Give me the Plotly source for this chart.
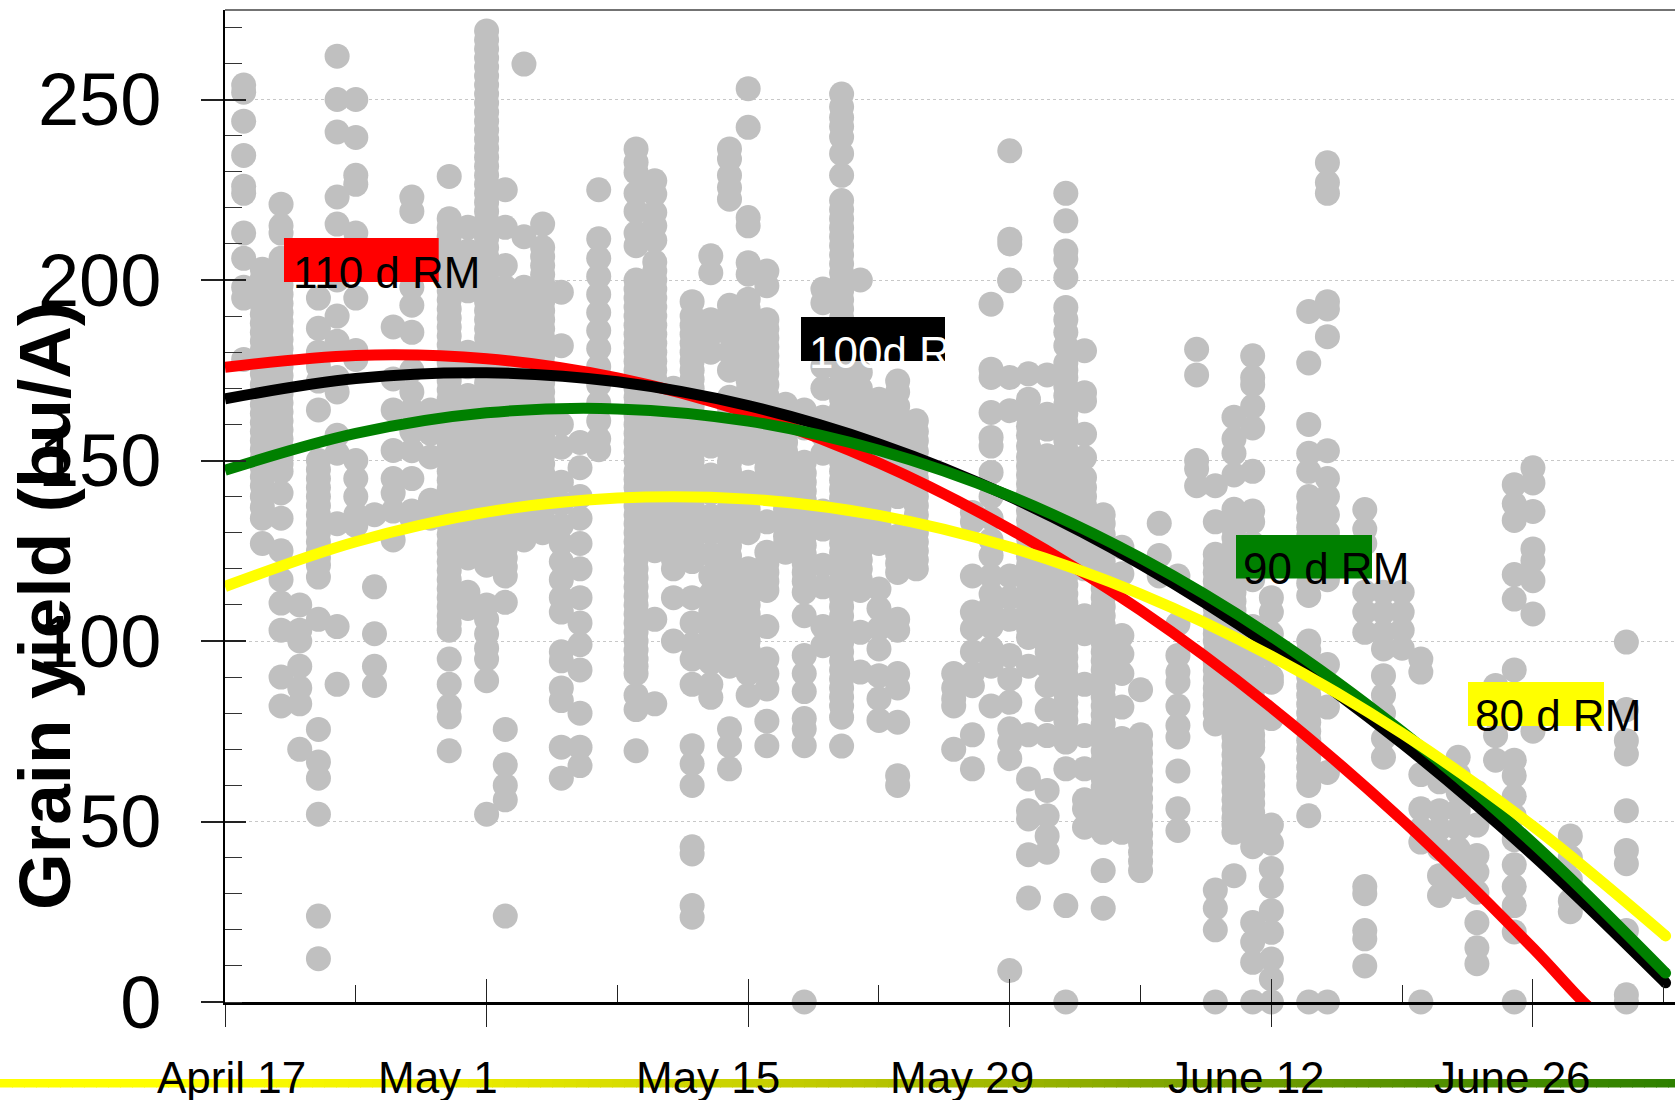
import plotly.graph_objects as go

# ---- tick labels and curve names -------------------------------------------
X_TICK_DAYS = [0, 14, 28, 42, 56, 70]
X_LABELS = ["April 17", "May 1", "May 15", "May 29", "June 12", "June 26"]
Y_TICKS = [0, 50, 100, 150, 200, 250]
Y_TITLE = "Grain yield (bu/A)"

# ---- fitted curves (days after April 17, bu/A) -----------------------------
CURVE_DAYS = [0, 7, 14, 21, 28, 35, 42, 49, 56, 63, 70]
red_days = CURVE_DAYS + [72.7, 73.6]
red_y = [175.8, 179.1, 178.2, 172.9, 163.2, 149.3, 131.0, 108.5, 81.6, 50.4, 14.9, 0, -4]
long_days = CURVE_DAYS + [77.1]
black_y = [167.1, 172.7, 174.3, 171.8, 165.2, 154.6, 140.0, 121.3, 98.5, 71.6, 40.7, 5.3]
green_y = [147.3, 157.5, 163.2, 164.3, 160.9, 152.8, 140.2, 123.0, 101.3, 74.9, 44.0, 8.0]
yellow_y = [115.1, 127.5, 135.7, 139.6, 139.3, 134.8, 126.0, 113.0, 95.8, 74.4, 48.7, 18.3]

# ---- plot observations, one list per planting day --------------------------
d01 = [254,252,244,234.5,226,224,213,206,198,195,178]
d02 = [203,198,193,188,183,178,174,168,163,158,153,148,143,140,134,127]
d03 = [221,215,213,206,201,196,191,186,181,176,171,166,161,156,151,147,141,134,125,117,110.5,103,90,82]
d04 = [110,103,100,93,87,82.6,70]
d05 = [195,186.6,180,176,172,164,150,145,140,135,130,125,121,117.7,106,75.5,66.5,62,52,23.8,12]
d06 = [262,250,241,223,215.5,208,200,190,183,173,169,157,152,132.5,104,88]
d07 = [250,239.5,229,226.5,213,205,195,180.5,178,150,145,140,135,132]
d08 = [135,115,102,93,87.7]
d09 = [187,172.6,164,152.8,145,141,136,128]
d10 = [223,219,198,193,185.5,175,169,164,158,152.7,145,136,134]
d11 = [164,157.5,151,139,134]
d12 = [228.7,217,212,207,202,197,192,187,182,177,172,167,162,157,152,147,142,137,132,127,122,117,112,107,103,95,88,82,79,69.6]
d13 = [214.6,208,203,197,180,176,168,163,158,153,148,143,138,133,128,123,113.5,109]
d14 = [269,264,259,254,249,244,239,234,229,224,219,214,209,204,199,194,189,184,179,174,169,164,159,154,149,144,139,134,129,124,121,110,106,102,98,95,89,52]
d15 = [225,214.6,204,198,193,188,183,178,173,168,163,158,153,148,143,138,133,128,123,118,110.7,75.5,65.7,60,56,23.8]
d16 = [259.8,212,198,193,188,183,178,173,168,163,158,153,148,143,138,133,128]
d17 = [215.5,209,204,199,194,189,184,179,174,169,164,159,154,149,144,139,134,130]
d18 = [196.6,181.8,160,153.7,144,138,132,127,122,117,112,108,97,94.5,87,83.5,70.6,62]
d19 = [155,148,140,134,127,120,112,105,99,92,80,70.6,65.5]
d20 = [225,211.4,206,201,196,191,186,181,176,171,166,161,156,153]
d22 = [236.3,232.6,229.8,224,219,213,209.5,200,195,190,185,180,175,170,165,160,155,150,144.8,140,135,130,125,120,115,110,105,100,95,91,85,81,69.6]
d23 = [227.5,223.8,218.7,215,211,205,200,195,190,185,180,175,170,165,160,155,150,145,140,135,130,125,106,82.6]
d24 = [170,165,160,155,150,145,140,135,130,125,120,112,100]
d25 = [194,190,185,180,175,170,165,160,155,150,145,140,135,130,125,122,112,105,99,95,88,71,66,60,43,41,26.7,23.5]
d26 = [206.7,202,189,185,180,158,154,146,141,134.6,130,124,118,113,108,103,98,94,88,84.4]
d27 = [236.3,233.5,229,225.6,222.4,193,189,185,180,175,167.5,162,157,152,147,142,137,132,126.4,121,116,111,106,101,96,93,75.7,71,64.6]
d28 = [253,242.3,217.3,215,204.8,201.6,194.7,192,187,183,178,172,167,162,157,152,144,139,134,130,120,115,110,105,100,95,91,85]
d29 = [202.5,198.4,189,184,179,174,168,163,158,153,148,143,133,124.6,119,114,104,95,91,86.7,77.8,71]
d30 = [165.6,160,155,150,144,139,134,129,124.6]
d31 = [164,159,149.5,144,139,134,129,124,119,113.5,107,96,91,86,78.5,75.7,71,0]
d32 = [197.5,193.7,176,170,162,157,152,136,131,121,115,104,98.7]
d33 = [251.5,248,245,242.5,239.6,235,229,222,217,212,207,202,197,192,187,182,177,172,167,162,157,152,147,142,137,132,127,122,117,112,107,102,97,92,87,82,78.9,70.9]
d34 = [200,174.4,170,165,160,155,150,145,140,135,130,125,120,114,102.4,91.4]
d35 = [167,162,157,152,147,142,137,132,127,114.4,109,103.4,97.8,90.4,84,78]
d36 = [172,169,165,160,155,150,145,140,129,124,119,106,103,91,87,77.5,62.7,60]
d37 = [161,155.5,150,145,140,135,130,125,120]
d39 = [91,87,84,82,70]
d40 = [135.6,133,118,108,103.4,97,91,87.6,74,64.6]
d41 = [193.3,175.3,173,163.3,156.4,154,146.7,140,134,128,123.7,118,113,109.8,104,98,93,82]
d42 = [235.8,211.3,210,200,199.8,173,163.8,118,112,106,96,89.5,83,75.7,72,67.4,8.7]
d43 = [174,167,162.4,157,151,146,141,136,131,126,121,116,111,106,101,93,74,61.8,53,50.7,40.8,28.8]
d44 = [173.7,162.8,158.7,151.3,146,141,136,131,126,121,116,111,106,101,97,93,87.6,81,73.8,58.6,51.6,46,41.5]
d45 = [224,216.4,208,205.8,200.7,192.4,189,185.5,181.8,177,173,168,163,158,153,148,143,138,133,128,123,118,113,108,103,98,93,88,83,78,72,64.6,26.7,0]
d46 = [180.4,168.8,166.5,157.3,150.8,145.3,140,135,130,125,120,107,102,88,73.8,64.6,56,53.5,48.4]
d47 = [135,132.5,127,122,117,112,107,102,97,92,87,82,77,72,67,62,57,52,47,36.4,26]
d48 = [126,118.6,101.5,96.4,91,81.7,73,69,64,59,54,49,47]
d49 = [86.5,74,69,64,59,54,49,44,39,36.4]
d50 = [132.6,123.7,118]
d51 = [118,104.7,96,91.4,88.6,82,76.6,73.4,64,53.5,47.5]
d52 = [180.8,173.7,150,147.7,143]
d53 = [143,133,124,119,114,109,104,100,94,89.5,85,80,77,31,26,20,0]
d54 = [162,156,152,146,136.5,131,126,121,116,111,106,101,96,91,86,81,76,71,66,61,56,51,47,35]
d55 = [179,173,171,165,159,147,136,133,127,122,117,104,99,94,89,84,79,74,70.5,65,60,55,50,45,43,22,16.6,11,0]
d56 = [112,108,102,96,90,88.6,78.5,49,44,37,32,25.3,19.3,11.9,6.4,0]
d58 = [191.3,177,160,152,147,140,134,129,124,119,112.6,100,95,90,85,80,75,70,65,60,51.6,0]
d59 = [232.5,227,224,194,192,184.3,152.7,145,140,135,130,125,120,117,93.5,81.7,63.6,0]
d61 = [136.4,131,127,113.5,108,102.4,32,30,19.8,17.5,10]
d62 = [113.5,108,102.4,97.8,90.4,85,80,73,67.8]
d63 = [113.5,108,103,98]
d64 = [95,91.4,63,53.5,48,44.3,0]
d65 = [61,53,48,42.4,35,29.5]
d66 = [67.8,63,58,53,48,42.4,37,32]
d67 = [58,49,40.6,36,30.4,22,15,10.6]
d68 = [87.7,73.8,67]
d69 = [143.3,138,133.4,118.4,111.6,92,67,62.7,57,51.6,45,38,32,26.7,19.4,0]
d70 = [148,143.8,135.9,125.5,122.3,116.7,107.5,75]
d72 = [46,40,34,28,25]
d75 = [99.7,81,72.4,68.7,53,42,38.3,19.8,2,0]

# further observations read from the solid stretches of the columns
x02 = [200.5,195.5,190.5,185.5,180.5,176,171,165.5,160.5,155.5,150.5,145.5,137]
x03 = [203.5,198.5,193.5,188.5,183.5,178.5,173.5,168.5,163.5,158.5,153.5,149]
x05 = [147.5,142.5,137.5,132.5,127.5,123]
x12 = [214.5,209.5,204.5,199.5,194.5,189.5,184.5,179.5,174.5,169.5,164.5,159.5,154.5,149.5,144.5,139.5,134.5,129.5,124.5,119.5,114.5,109.5,105]
x14 = [266.5,261.5,256.5,251.5,246.5,241.5,236.5,231.5,226.5,221.5,216.5,211.5,206.5,201.5,196.5,191.5,186.5,181.5,176.5,171.5,166.5,161.5,156.5,151.5,146.5,141.5,136.5,131.5,126.5]
x15 = [195.5,190.5,185.5,180.5,175.5,170.5,165.5,160.5,155.5,150.5,145.5,140.5,135.5,130.5,125.5,120.5]
x16 = [195.5,190.5,185.5,180.5,175.5,170.5,165.5,160.5,155.5,150.5,145.5,140.5,135.5,130.5]
x17 = [206.5,201.5,196.5,191.5,186.5,181.5,176.5,171.5,166.5,161.5,156.5,151.5,146.5,141.5,136.5,132]
x22 = [197.5,192.5,187.5,182.5,177.5,172.5,167.5,162.5,157.5,152.5,147,142.5,137.5,132.5,127.5,122.5,117.5,112.5,107.5,102.5,97.5,93]
x23 = [202.5,197.5,192.5,187.5,182.5,177.5,172.5,167.5,162.5,157.5,152.5,147.5,142.5,137.5,132.5,127.5]
x24 = [167.5,162.5,157.5,152.5,147.5,142.5,137.5,132.5,127.5,122.5]
x25 = [187.5,182.5,177.5,172.5,167.5,162.5,157.5,152.5,147.5,142.5,137.5,132.5,127.5]
x27 = [164.5,159.5,154.5,149.5,144.5,139.5,134.5,129,123.5,118.5,113.5,108.5,103.5,98.5]
x28 = [185,180.5,175,169.5,164.5,159.5,154.5,141.5,136.5,117.5,112.5,107.5,102.5,97.5,93]
x29 = [186.5,181.5,176.5,171,165.5,160.5,155.5,150.5,145.5,121.5,116.5]
x30 = [162.5,157.5,152.5,147,141.5,136.5,131.5,127]
x31 = [161.5,146.5,141.5,136.5,131.5,126.5,121.5,116.5]
x33 = [219.5,214.5,209.5,204.5,199.5,194.5,189.5,184.5,179.5,174.5,169.5,164.5,159.5,154.5,149.5,144.5,139.5,134.5,129.5,124.5,119.5,114.5,109.5,104.5,99.5,94.5,89.5,84.5]
x34 = [167.5,162.5,157.5,152.5,147.5,142.5,137.5,132.5,127.5,122.5,117]
x35 = [164.5,159.5,154.5,149.5,144.5,139.5,134.5,129.5]
x36 = [162.5,157.5,152.5,147.5,142.5,126.5,121.5]
x37 = [158,152.5,147.5,142.5,137.5,132.5,127.5,122.5]
x43 = [159.5,154,148.5,143.5,138.5,133.5,128.5,123.5,118.5,113.5,108.5,103.5]
x44 = [148.5,143.5,138.5,133.5,128.5,123.5,118.5,113.5,108.5,103.5,99]
x45 = [175,170.5,165.5,160.5,155.5,150.5,145.5,140.5,135.5,130.5,125.5,120.5,115.5,110.5,105.5,100.5,95.5,90.5,85.5,80.5,75]
x46 = [142.5,137.5,132.5,127.5,122.5]
x47 = [129.5,124.5,119.5,114.5,109.5,104.5,99.5,94.5,89.5,84.5,79.5,74.5,69.5,64.5,59.5,54.5,49.5]
x48 = [66.5,61.5,56.5,51.5]
x49 = [71.5,66.5,61.5,56.5,51.5,46.5,41.5]
x53 = [121.5,116.5,111.5,106.5,102,97,92,87,82.5]
x54 = [133.5,128.5,123.5,118.5,113.5,108.5,103.5,98.5,93.5,88.5,83.5,78.5,73.5,68.5,63.5,58.5,53.5,49]
x55 = [124.5,119.5,101.5,96.5,91.5,86.5,81.5,76.5,72,62.5,57.5,52.5,47.5]
x58 = [137,131.5,126.5,121.5,116,97.5,92.5,87.5,82.5,77.5,72.5,67.5,62.5]

COLUMNS = [(1,d01),(2,d02),(3,d03),(4,d04),(5,d05),(6,d06),(7,d07),(8,d08),(9,d09),(10,d10),
           (11,d11),(12,d12),(13,d13),(14,d14),(15,d15),(16,d16),(17,d17),(18,d18),(19,d19),(20,d20),
           (22,d22),(23,d23),(24,d24),(25,d25),(26,d26),(27,d27),(28,d28),(29,d29),(30,d30),(31,d31),
           (32,d32),(33,d33),(34,d34),(35,d35),(36,d36),(37,d37),(39,d39),(40,d40),(41,d41),(42,d42),
           (43,d43),(44,d44),(45,d45),(46,d46),(47,d47),(48,d48),(49,d49),(50,d50),(51,d51),(52,d52),
           (53,d53),(54,d54),(55,d55),(56,d56),(58,d58),(59,d59),(61,d61),(62,d62),(63,d63),(64,d64),
           (65,d65),(66,d66),(67,d67),(68,d68),(69,d69),(70,d70),(72,d72),(75,d75),
           (2,x02),(3,x03),(5,x05),(12,x12),(14,x14),(15,x15),(16,x16),(17,x17),(22,x22),(23,x23),
           (24,x24),(25,x25),(27,x27),(28,x28),(29,x29),(30,x30),(31,x31),(33,x33),(34,x34),(35,x35),
           (36,x36),(37,x37),(43,x43),(44,x44),(45,x45),(46,x46),(47,x47),(48,x48),(49,x49),(53,x53),
           (54,x54),(55,x55),(58,x58)]

# ---- layout constants ------------------------------------------------------
W, H = 1675, 1100
L, R, T, B = 225, 0, 10, 98
PW, PH = W - L - R, H - T - B
FONT = "Liberation Sans"
GREY = "#c0c0c0"

def xp(px):
    return (px - L) / PW

def yp(py):
    return (H - B - py) / PH

obs_x = [d for d, ys in COLUMNS for _ in ys]
obs_y = [v for _, ys in COLUMNS for v in ys]

fig = go.Figure()
fig.add_trace(go.Scatter(x=obs_x, y=obs_y, mode="markers", cliponaxis=False,
                         marker=dict(size=25, color=GREY, line=dict(width=0)),
                         showlegend=False, hoverinfo="skip"))
for xs, ys, col in [(red_days, red_y, "#ff0000"), (long_days, black_y, "#000000"),
                    (long_days, green_y, "#008000"), (long_days, yellow_y, "#ffff00")]:
    fig.add_trace(go.Scatter(x=xs, y=ys, mode="lines", showlegend=False, hoverinfo="skip",
                             line=dict(color=col, width=11, shape="spline", smoothing=1.0)))
    if col != "#ff0000":
        # rounded end of the curve
        fig.add_trace(go.Scatter(x=xs[-1:], y=ys[-1:], mode="markers", showlegend=False, hoverinfo="skip",
                                 marker=dict(size=11, color=col, line=dict(width=0))))
# carrier of the axes that draw the inner half of the major ticks
fig.add_trace(go.Scatter(x=[0], y=[0], mode="markers", xaxis="x2", yaxis="y2", showlegend=False,
                         hoverinfo="skip", marker=dict(size=1, opacity=0)))

X_RANGE = [0, PW / 18.685]
Y_RANGE = [0, PH / 3.61]

shapes = [dict(type="line", xref="paper", yref="paper", x0=0, x1=1, y0=1, y1=1, layer="above",
               line=dict(color="#444444", width=1.5))]

# gradient bar along the foot of the page
BAR_STOPS = [(0.0, (255, 255, 0)), (0.1, (255, 255, 0)), (0.25, (240, 240, 0)),
             (0.5, (190, 200, 0)), (0.75, (110, 155, 0)), (1.0, (45, 128, 0))]
def bar_colour(t):
    for (t0, c0), (t1, c1) in zip(BAR_STOPS, BAR_STOPS[1:]):
        if t <= t1:
            f = (t - t0) / (t1 - t0)
            return "rgb(%d,%d,%d)" % tuple(round(a + (b - a) * f) for a, b in zip(c0, c1))
    return "rgb(45,128,0)"
SEG = 12
for i in range(0, W, SEG):
    shapes.append(dict(type="rect", xref="paper", yref="paper", layer="below",
                       x0=xp(i), x1=xp(i + SEG + 1), y0=yp(1087.5), y1=yp(1079),
                       line=dict(width=0), fillcolor=bar_colour((i + SEG / 2) / W)))

# legend keys: box left, right, top, bottom, colour, text, text colour, text left, text middle
KEYS = [(284, 438.7, 238, 282, "#ff0000", "110 d RM", "#000000", 292, 272),
        (801, 945, 317, 361, "#000000", "100d R", "#ffffff", 808, 352),
        (1236, 1372, 535, 578.6, "#008000", "90 d RM", "#000000", 1241.5, 568),
        (1468, 1604, 682, 726, "#ffff00", "80 d RM", "#000000", 1474, 715)]
annotations = []
for x0, x1, y0, y1, col, txt, tcol, tx, ty in KEYS:
    shapes.append(dict(type="rect", xref="paper", yref="paper", layer="above",
                       x0=xp(x0), x1=xp(x1), y0=yp(y1), y1=yp(y0),
                       line=dict(width=0), fillcolor=col))
    annotations.append(dict(xref="paper", yref="paper", x=xp(tx), y=yp(ty), text=txt, showarrow=False,
                            xanchor="left", yanchor="middle", borderpad=0,
                            font=dict(family=FONT, size=44, color=tcol)))

for cx, txt in zip([231, 438, 708, 962, 1246, 1512], X_LABELS):
    annotations.append(dict(xref="paper", yref="paper", x=xp(cx), y=yp(1077), text=txt, showarrow=False,
                            xanchor="center", yanchor="middle", borderpad=0,
                            font=dict(family=FONT, size=44, color="#000000")))

annotations.append(dict(xref="paper", yref="paper", x=xp(44), y=yp(606), text="<b>%s</b>" % Y_TITLE,
                        textangle=-90, showarrow=False, xanchor="center", yanchor="middle",
                        font=dict(family=FONT, size=73, color="#000000")))

fig.update_layout(
    width=W, height=H, autosize=False,
    margin=dict(l=L, r=R, t=T, b=B, pad=0),
    paper_bgcolor="#ffffff", plot_bgcolor="#ffffff",
    showlegend=False, shapes=shapes, annotations=annotations,
    xaxis=dict(range=X_RANGE, tickmode="array", tickvals=X_TICK_DAYS, showticklabels=False,
               ticks="outside", ticklen=22, tickwidth=1.2, tickcolor="#222222",
               showgrid=False, zeroline=False, showline=True, linecolor="#000000", linewidth=2.5,
               minor=dict(ticks="inside", ticklen=17, tickwidth=1.2, tickcolor="#222222",
                          tickmode="array", tickvals=[7, 21, 35, 49, 63, 77], showgrid=False)),
    yaxis=dict(range=Y_RANGE, tickmode="array", tickvals=Y_TICKS, ticktext=[str(v) for v in Y_TICKS],
               ticks="outside", ticklen=22, tickwidth=1.5, tickcolor="#222222",
               tickfont=dict(family=FONT, size=74, color="#000000"), ticklabelstandoff=25,
               showgrid=True, gridcolor="#c8c8c8", gridwidth=1, griddash="dot",
               zeroline=False, showline=True, linecolor="#000000", linewidth=1.5,
               minor=dict(ticks="inside", ticklen=17, tickwidth=1.2, tickcolor="#333333",
                          dtick=10, tick0=0, showgrid=False)),
    xaxis2=dict(range=X_RANGE, overlaying="x", anchor="y", side="bottom", tickmode="array",
                tickvals=X_TICK_DAYS, showticklabels=False, ticks="inside", ticklen=23,
                tickwidth=1.2, tickcolor="#222222", showgrid=False, zeroline=False, showline=False),
    yaxis2=dict(range=Y_RANGE, overlaying="y", anchor="x", side="left", tickmode="array",
                tickvals=Y_TICKS, showticklabels=False, ticks="inside", ticklen=21,
                tickwidth=1.5, tickcolor="#222222", showgrid=False, zeroline=False, showline=False),
)

fig.write_html("out.html", post_script="document.body.style.margin='0';",
               config=dict(displayModeBar=False))
